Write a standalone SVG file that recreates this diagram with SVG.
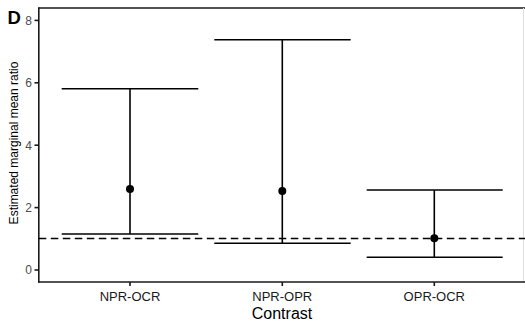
<svg xmlns="http://www.w3.org/2000/svg" width="525" height="323" viewBox="0 0 525 323">
<style>
.ax{stroke:#1a1a1a;stroke-width:1.6;fill:none}
.eb{stroke:#000;stroke-width:1.6;fill:none}
.tk{font-family:"Liberation Sans",Arial,sans-serif;font-size:12px;fill:#4d4d4d}
.xl{font-family:"Liberation Sans",Arial,sans-serif;font-size:13px;fill:#1a1a1a;text-anchor:middle}
.tt{font-family:"Liberation Sans",Arial,sans-serif;fill:#000}
</style>
<rect width="525" height="323" fill="#fff"/>
<g id="axes">
<line class="ax" x1="38.8" y1="8" x2="525" y2="8"/>
<line x1="523.5" y1="8" x2="523.5" y2="282" stroke="#e0e0e0" stroke-width="1"/>
<line class="ax" x1="38.8" y1="7.2" x2="38.8" y2="282.8"/>
<line class="ax" x1="38" y1="282" x2="525" y2="282"/>
<g class="ax">
<line x1="34.5" y1="20.4" x2="38.8" y2="20.4"/>
<line x1="34.5" y1="82.8" x2="38.8" y2="82.8"/>
<line x1="34.5" y1="145.2" x2="38.8" y2="145.2"/>
<line x1="34.5" y1="207.6" x2="38.8" y2="207.6"/>
<line x1="34.5" y1="270" x2="38.8" y2="270"/>
<line x1="130" y1="282" x2="130" y2="286"/>
<line x1="282.3" y1="282" x2="282.3" y2="286"/>
<line x1="434.3" y1="282" x2="434.3" y2="286"/>
</g>
<g class="tk" text-anchor="end">
<text x="32" y="24.8">8</text>
<text x="32" y="87.2">6</text>
<text x="32" y="149.6">4</text>
<text x="32" y="212">2</text>
<text x="32" y="274.4">0</text>
</g>
<text class="xl" x="130" y="300.5">NPR-OCR</text>
<text class="xl" x="282.3" y="300.5">NPR-OPR</text>
<text class="xl" x="434.3" y="300.5">OPR-OCR</text>
<text class="tt" x="282" y="319" font-size="16" text-anchor="middle">Contrast</text>
<text class="tt" transform="translate(18,143) rotate(-90)" font-size="12" text-anchor="middle">Estimated marginal mean ratio</text>
<text class="tt" x="7.5" y="24" font-size="18.5" font-weight="bold">D</text>
</g>
<g id="connectors">
<line x1="38.8" y1="238.5" x2="525" y2="238.5" stroke="#000" stroke-width="1.6" stroke-dasharray="7.5,4.5"/>
</g>
<g id="NPR-OCR">
<line class="eb" x1="61.7" y1="88.7" x2="198.3" y2="88.7"/>
<line class="eb" x1="61.7" y1="234" x2="198.3" y2="234"/>
<line class="eb" x1="130" y1="88.7" x2="130" y2="234"/>
<circle cx="130" cy="189" r="4" fill="#000"/>
</g>
<g id="NPR-OPR">
<line class="eb" x1="214.3" y1="39.7" x2="350.7" y2="39.7"/>
<line class="eb" x1="214.3" y1="243.3" x2="350.7" y2="243.3"/>
<line class="eb" x1="282.3" y1="39.7" x2="282.3" y2="243.3"/>
<circle cx="282.3" cy="191" r="4" fill="#000"/>
</g>
<g id="OPR-OCR">
<line class="eb" x1="366.7" y1="190" x2="502.7" y2="190"/>
<line class="eb" x1="366.7" y1="257.3" x2="502.7" y2="257.3"/>
<line class="eb" x1="434.3" y1="190" x2="434.3" y2="257.3"/>
<circle cx="434.3" cy="238.3" r="4" fill="#000"/>
</g>
</svg>
